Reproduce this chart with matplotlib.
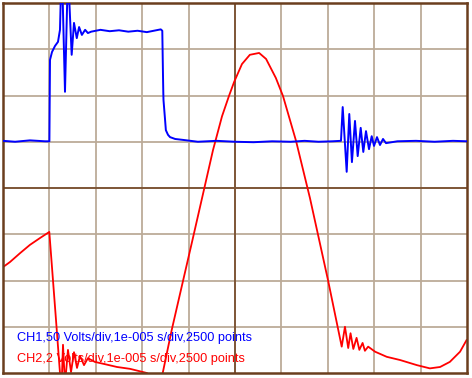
import matplotlib.pyplot as plt

# screen units: 10 horizontal divisions, 8 vertical divisions (centre = 0)
ch1_x = [0.0, 0.26, 0.58, 0.905, 1.0, 1.013, 1.056, 1.12, 1.185, 1.228,
         1.265, 1.336, 1.40, 1.48, 1.53, 1.59, 1.64, 1.70, 1.77, 1.83,
         1.9, 2.1, 2.3, 2.5, 2.7, 2.9, 3.1, 3.3, 3.40, 3.433,
         3.448, 3.455, 3.459, 3.49, 3.51, 3.556, 3.60, 3.71, 3.88,
         4.2, 4.6, 5.0, 5.4, 5.8, 6.2, 6.5, 6.8, 7.1, 7.284,
         7.321, 7.407, 7.463, 7.52, 7.586, 7.644, 7.709, 7.765, 7.823, 7.888,
         7.946, 7.996, 8.06, 8.125, 8.19, 8.254, 8.5, 8.9, 9.3, 9.7, 10.0]
ch1_y = [1.02, 1.00, 1.03, 1.01, 1.01, 2.77, 2.94, 3.07, 3.16, 3.42,
         4.93, 2.08, 4.71, 2.88, 3.57, 3.24, 3.48, 3.31, 3.42, 3.35,
         3.38, 3.42, 3.39, 3.41, 3.38, 3.40, 3.37, 3.41, 3.43, 3.40,
         2.44, 2.05, 1.90, 1.51, 1.25, 1.15, 1.10, 1.06, 1.04,
         1.00, 1.02, 1.00, 0.99, 1.01, 1.00, 1.02, 1.00, 1.01, 1.02,
         1.75, 0.35, 1.60, 0.56, 1.45, 0.69, 1.30, 0.78, 1.23, 0.84,
         1.12, 0.91, 1.10, 0.93, 1.06, 0.97, 1.01, 1.02, 1.00, 1.02, 1.01]

ch2_x = [0.0, 0.151, 0.366, 0.58, 0.80, 0.998, 1.142, 1.228, 1.26,
         1.293, 1.336, 1.40, 1.466, 1.53, 1.595, 1.66, 1.746, 1.83,
         1.98, 2.20, 2.457, 2.737, 3.10, 3.276, 3.36, 3.442, 3.636,
         3.815, 4.073, 4.31, 4.526, 4.72, 4.87, 4.98, 5.15, 5.32, 5.52,
         5.67, 5.88, 6.034, 6.315, 6.616, 7.004, 7.30, 7.37, 7.44, 7.49, 7.55,
         7.62, 7.68, 7.75, 7.80, 7.87, 8.02, 8.27, 8.56, 8.92, 9.20,
         9.42, 9.63, 9.85, 9.99]
ch2_y = [-1.71, -1.60, -1.41, -1.23, -1.08, -0.95, -2.85, -4.0, -4.37,
         -3.39, -4.25, -3.50, -3.98, -3.55, -3.89, -3.63, -3.83, -3.68,
         -3.76, -3.81, -3.87, -3.91, -4.0, -4.15, -4.2, -4.0, -3.07,
         -2.29, -1.17, -0.13, 0.82, 1.55, 1.99, 2.29, 2.68, 2.88, 2.92,
         2.79, 2.38, 1.99, 1.02, -0.22, -1.99, -3.43, -3.00, -3.46, -3.14, -3.48,
         -3.24, -3.50, -3.35, -3.52, -3.43, -3.54, -3.65, -3.72, -3.83, -3.90,
         -3.87, -3.76, -3.54, -3.29]

ch1_label = 'CH1,50 Volts/div,1e-005 s/div,2500 points'
ch2_label = 'CH2,2 Volts/div,1e-005 s/div,2500 points'

grid_col = '#bcab98'
centre_col = '#7d5536'
border_col = '#6b3e1e'

fig = plt.figure(figsize=(4.72, 3.78), dpi=100)
ax = fig.add_axes([3 / 472, 5 / 378, 464 / 472, 370 / 378])
ax.set_xlim(0, 10)
ax.set_ylim(-4, 4)

# graticule
for gx in range(1, 10):
    if gx != 5:
        ax.axvline(gx, color=grid_col, lw=1.3, zorder=1)
for gy in range(-3, 4):
    if gy != 0:
        ax.axhline(gy, color=grid_col, lw=1.3, zorder=1)
ax.axvline(5, color=centre_col, lw=1.4, zorder=1)
ax.axhline(0, color=centre_col, lw=1.4, zorder=1)

ax.plot(ch1_x, ch1_y, color='#0000ff', lw=1.4, zorder=3)
ax.plot(ch2_x, ch2_y, color='#ff0000', lw=1.3, zorder=2)

ax.set_xticks([])
ax.set_yticks([])
for sp in ax.spines.values():
    sp.set_color(border_col)
    sp.set_linewidth(1.8)

ax.text(0.030, 0.095, ch1_label, transform=ax.transAxes, color='#0000ff',
        fontsize=9.2, family='Liberation Sans', va='center', zorder=5)
ax.text(0.030, 0.039, ch2_label, transform=ax.transAxes, color='#ff0000',
        fontsize=9.2, family='Liberation Sans', va='center', zorder=5)

fig.savefig('out.png', dpi=100)
